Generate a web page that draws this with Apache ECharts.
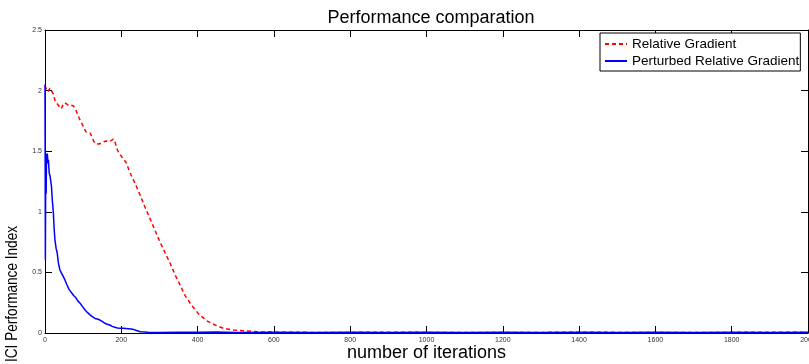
<!DOCTYPE html>
<html>
<head>
<meta charset="utf-8">
<script src="https://cdn.jsdelivr.net/npm/echarts@6/dist/echarts.min.js"></script>
<style>html,body{margin:0;padding:0;background:#fff;}#c{width:809px;height:364px;}</style>
</head>
<body>
<div id="c"></div>
<script>
var titleText = "Performance comparation";
var xName = "number of iterations";
var yName = "ICI Performance Index";
var seriesNames = ["Relative Gradient", "Perturbed Relative Gradient"];
var xTicks = [0, 200, 400, 600, 800, 1000, 1200, 1400, 1600, 1800, 2000];
var yTicks = [0, 0.5, 1, 1.5, 2, 2.5];

var redIter = [0,4,8,13,17,22,26,30,35,42,47,52,57,61,68,74,81,86,90,98,103,107,112,118,123,128,134,140,145,149,154,159,164,170,175,179,183,186,190,194,200,204,212,217,223,236,249,262,275,288,301,315,328,341,354,367,384,402,424,446,467,494,520,555,600,700,800,900,1000,1100,1200,1300,1400,1500,1600,1700,1800,1900,2000];
var redVal = [2.04,2.01,1.99,2.02,2.0,1.97,1.92,1.90,1.89,1.85,1.88,1.90,1.91,1.88,1.88,1.875,1.84,1.80,1.77,1.72,1.69,1.66,1.66,1.65,1.62,1.58,1.56,1.56,1.55,1.565,1.57,1.585,1.58,1.58,1.59,1.60,1.58,1.55,1.51,1.48,1.46,1.44,1.41,1.37,1.32,1.235,1.14,1.04,0.946,0.85,0.753,0.66,0.575,0.48,0.396,0.31,0.23,0.16,0.10,0.066,0.039,0.025,0.018,0.01,0.007,0.005,0.005,0.006,0.005,0.004,0.005,0.005,0.006,0.005,0.004,0.005,0.005,0.006,0.005];

var blueIter = [0,1,2,3,4,5,6,8,9,11,13,15,17,19,22,24,26,29,32,35,39,44,48,52,57,63,70,75,81,86,92,98,105,111,118,124,131,137,144,150,157,163,170,176,183,190,198,205,218,231,240,250,270,300,350,400,450,500,600,700,800,900,1000,1100,1200,1300,1400,1500,1600,1700,1800,1900,2000];
var blueVal = [2.05,0.6,1.48,1.15,1.47,1.45,1.48,1.40,1.43,1.32,1.30,1.29,1.21,1.10,0.99,0.86,0.77,0.70,0.66,0.58,0.52,0.49,0.465,0.44,0.40,0.36,0.33,0.31,0.29,0.265,0.245,0.22,0.19,0.17,0.15,0.135,0.12,0.115,0.107,0.095,0.08,0.072,0.066,0.055,0.047,0.042,0.04,0.039,0.035,0.03,0.02,0.01,0.006,0.005,0.007,0.006,0.008,0.004,0.006,0.005,0.007,0.005,0.006,0.004,0.006,0.005,0.007,0.005,0.006,0.004,0.006,0.005,0.006];

function pairs(xs, ys){ return xs.map(function(x,i){ return [x, ys[i]]; }); }

var font = "'Liberation Sans', Arial, Helvetica, sans-serif";
var chart = echarts.init(document.getElementById('c'), null, {renderer:'canvas'});
var axisLine = {show:true, onZero:false, lineStyle:{color:'#000', width:1}};
chart.setOption({
  animation:false,
  backgroundColor:'#fff',
  title:{text:titleText, left:426, top:4, textAlign:'center',
    textStyle:{fontFamily:font, fontSize:18, fontWeight:'normal', color:'#000'}},
  legend:{
    orient:'vertical', left:600, top:33,
    padding:[4,1,3,4], itemGap:3, itemWidth:22, itemHeight:13,
    borderColor:'#000', borderWidth:1, backgroundColor:'#fff', borderRadius:0,
    align:'left',
    itemStyle:{opacity:0},
    textStyle:{fontFamily:font, fontSize:13.5, lineHeight:13, color:'#000'},
    data:seriesNames
  },
  grid:{left:45, right:1, top:30, bottom:31, containLabel:false, outerBoundsMode:'none'},
  xAxis:[{
    type:'value', min:xTicks[0], max:xTicks[xTicks.length-1], interval:200,
    position:'bottom', axisLine:axisLine,
    axisTick:{show:true, inside:true, length:7, lineStyle:{color:'#000'}},
    axisLabel:{show:true, fontFamily:font, fontSize:7, color:'#333', margin:4,
      formatter:function(v){ return String(v); }},
    splitLine:{show:false},
    name:xName, nameLocation:'middle', nameGap:11, nameMoveOverlap:false,
    nameTextStyle:{fontFamily:font, fontSize:18, color:'#000'}
  },{
    type:'value', min:xTicks[0], max:xTicks[xTicks.length-1], interval:200,
    position:'top', axisLine:axisLine,
    axisTick:{show:true, inside:true, length:7, lineStyle:{color:'#000'}},
    axisLabel:{show:false}, splitLine:{show:false}
  }],
  yAxis:[{
    type:'value', min:yTicks[0], max:yTicks[yTicks.length-1], interval:0.5,
    position:'left', axisLine:axisLine,
    axisTick:{show:true, inside:true, length:7, lineStyle:{color:'#000'}},
    axisLabel:{show:true, fontFamily:font, fontSize:7, color:'#333', margin:3,
      formatter:function(v){ return String(v); }},
    splitLine:{show:false}
  },{
    type:'value', min:yTicks[0], max:yTicks[yTicks.length-1], interval:0.5,
    position:'right', axisLine:axisLine,
    axisTick:{show:true, inside:true, length:7, lineStyle:{color:'#000'}},
    axisLabel:{show:false}, splitLine:{show:false}
  }],
  graphic:[{
    type:'text', x:12, y:294, rotation:Math.PI/2, scaleX:0.8,
    style:{text:yName, fontFamily:font, fontSize:17, fill:'#000', align:'center', verticalAlign:'middle'}
  }],
  series:[{
    name:seriesNames[0], type:'line', data:pairs(redIter, redVal),
    symbol:'none', smooth:false, z:2,
    lineStyle:{color:'#ff0000', width:1.5, type:[4,3]},
    itemStyle:{color:'#ff0000'}
  },{
    name:seriesNames[1], type:'line', data:pairs(blueIter, blueVal),
    symbol:'none', smooth:false, z:3,
    lineStyle:{color:'#0000ff', width:1.5},
    itemStyle:{color:'#0000ff'}
  }]
});
</script>
</body>
</html>
